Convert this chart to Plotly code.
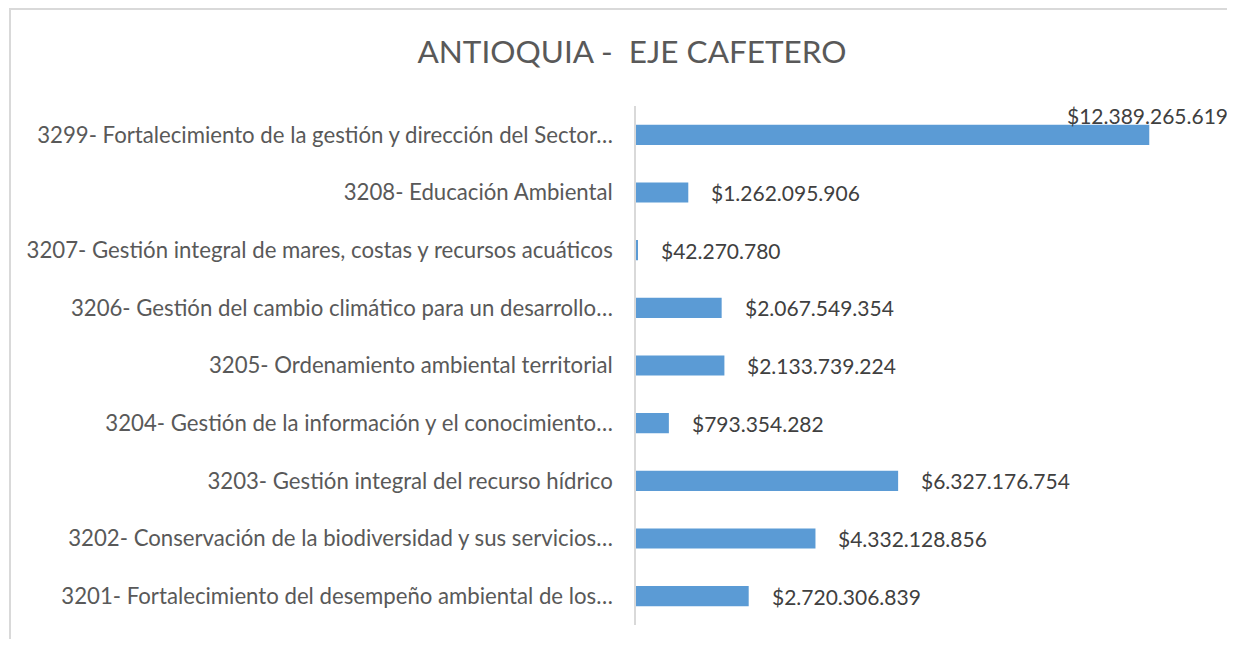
import plotly.graph_objects as go

categories = [
    "3299- Fortalecimiento de la gestión y dirección del Sector…",
    "3208- Educación Ambiental",
    "3207- Gestión integral de mares, costas y recursos acuáticos",
    "3206- Gestión del cambio climático para un desarrollo…",
    "3205- Ordenamiento ambiental territorial",
    "3204- Gestión de la información y el conocimiento…",
    "3203- Gestión integral del recurso hídrico",
    "3202- Conservación de la biodiversidad y sus servicios…",
    "3201- Fortalecimiento del desempeño ambiental de los…",
]
values = [
    12389265619,
    1262095906,
    42270780,
    2067549354,
    2133739224,
    793354282,
    6327176754,
    4332128856,
    2720306839,
]
title_text = "ANTIOQUIA -\u00a0\u00a0EJE CAFETERO"

FONT = "Lato"
BAR = "#5B9BD5"

def fmt(v):
    return "$" + f"{v:,}".replace(",", ".")

fig = go.Figure(
    go.Bar(
        x=values,
        y=categories,
        orientation="h",
        marker=dict(color=BAR, line=dict(width=0)),
        width=0.35,
        hoverinfo="x+y",
    )
)

vmax = max(values)
for c, v in zip(categories, values):
    if v == vmax:
        fig.add_annotation(x=v, y=c, text=fmt(v), showarrow=False, xanchor="left",
                           yanchor="middle", xshift=-84, yshift=19,
                           font=dict(family=FONT, size=21, color="#404040"))
    else:
        fig.add_annotation(x=v, y=c, text=fmt(v), showarrow=False, xanchor="left",
                           yanchor="middle", xshift=21,
                           font=dict(family=FONT, size=21, color="#404040"))

# Page body has an 8px default margin on every side: the figure is sized to fit
# the window (1219x631 placed at 8,8) so that the plot area lands at 636..1216 x 106..625.
W, H, OFF = 1219, 631, 8
PL, PR, PT, PB = 636, 1216, 106, 625
PW, PH = PR - PL, PB - PT

# chart-area border (extends past the window on right/bottom as in the reference)
fig.add_shape(type="rect", xref="paper", yref="paper",
              x0=(10 - PL) / PW, x1=(1260 - PL) / PW,
              y0=(PB - 670) / PH, y1=(PB - 9) / PH,
              line=dict(color="#D9D9D9", width=2), fillcolor="rgba(0,0,0,0)", layer="below")

fig.update_layout(
    width=W,
    height=H,
    margin=dict(l=PL - OFF, r=OFF + W - PR, t=PT - OFF, b=OFF + H - PB),
    paper_bgcolor="white",
    plot_bgcolor="white",
    showlegend=False,
    title=dict(text=title_text, x=(632 - OFF) / W, xanchor="center", y=1 - (52 - OFF) / H,
               yanchor="middle", yref="container",
               font=dict(family=FONT, size=31.5, color="#595959")),
    xaxis=dict(range=[0, 14e9], visible=False, fixedrange=True),
    yaxis=dict(autorange="reversed", showline=True, linecolor="#D9D9D9", linewidth=1.5,
               ticks="", ticklabelstandoff=17, showgrid=False, zeroline=False,
               tickfont=dict(family=FONT, size=22.2, color="#595959"), fixedrange=True),
    font=dict(family=FONT),
)

fig.write_html("out.html")
